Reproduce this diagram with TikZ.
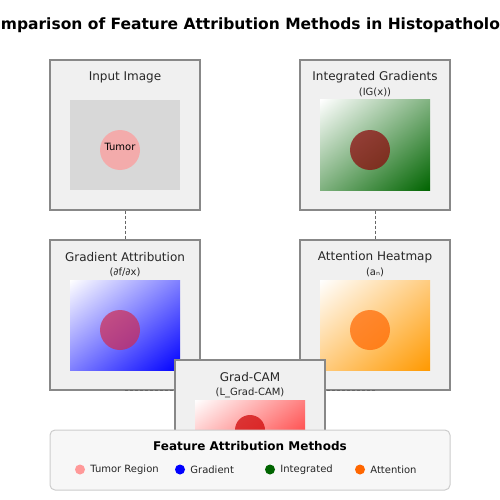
\documentclass[tikz,border=0pt]{standalone}
\usepackage{fontspec}
\setmainfont{DejaVu Sans}
\usetikzlibrary{positioning, shadings}
\definecolor{panelgray}{HTML}{F0F0F0}
\definecolor{panelline}{HTML}{888888}
\definecolor{tissue}{HTML}{D8D8D8}
\definecolor{tumorpink}{HTML}{FF9999}
\definecolor{igdark}{HTML}{8C0408}
\definecolor{gradspot}{HTML}{D02A50}
\definecolor{attnorange}{HTML}{FF6600}
\definecolor{heatorange}{HTML}{FF9900}
\definecolor{camred}{HTML}{CC0000}
\definecolor{igreen}{HTML}{006400}
\definecolor{legendgray}{HTML}{F7F7F7}
\definecolor{legendline}{HTML}{CCCCCC}
\tikzstyle{panel} = [draw=panelline, fill=panelgray, line width=1.1pt, minimum width=150, minimum height=150, inner sep=0pt]
\tikzstyle{heat} = [minimum width=110, minimum height=90, inner sep=0pt]
\tikzstyle{spot} = [circle, minimum size=40, inner sep=0pt, fill opacity=0.7]
\tikzstyle{flow} = [draw=black!60, line width=1pt, dash pattern=on 3pt off 2pt]
\tikzstyle{paneltitle} = [text centered, font=\fontsize{12}{14}\selectfont, text=black!85]
\tikzstyle{panelsub} = [text centered, font=\fontsize{10}{12}\selectfont, text=black!85]
\tikzstyle{keydot} = [circle, minimum size=10, inner sep=0pt]
\tikzstyle{keytext} = [font=\fontsize{10}{12}\selectfont, text=black!85, inner sep=0pt]
\tikzset{diag/.style={upper left=white, lower right=#1, upper right=#1!50, lower left=#1!50}}

\begin{document}
\begin{tikzpicture}[x=1pt, y=-1pt]
        \useasboundingbox (0,0) rectangle (500,500);
        % Title
        \node (title) at (250,25) [text centered, font=\fontsize{15.5}{18}\selectfont\bfseries] {Comparison of Feature Attribution Methods in Histopathology};

        % Input image
        \node (input) at (125,135) [panel] {};
        \node (inputname) at (125,77.5) [paneltitle] {Input Image};
        \node (inputimg) at (125,145) [heat, fill=tissue] {};
        \node (tumor) at (120,150) [spot, fill=tumorpink] {};
        \node (tumortext) at (120,147) [text centered, font=\fontsize{10}{12}\selectfont] {Tumor};

        % Integrated gradients
        \node (ig) at (375,135) [panel] {};
        \node (igname) at (375,77.5) [paneltitle] {Integrated Gradients};
        \node (igsub) at (375,92) [panelsub] {(IG(x))};
        \node (igimg) at (375,145) [heat, diag=igreen] {};
        \node (igspot) at (370,150) [spot, fill=igdark] {};

        % Gradient attribution
        \node (grad) at (125,315) [panel] {};
        \node (gradname) at (125,257.5) [paneltitle] {Gradient Attribution};
        \node (gradsub) at (125,272) [panelsub] {(∂f/∂x)};
        \node (gradimg) at (125,325) [heat, diag=blue] {};
        \node (gradspot) at (120,330) [spot, fill=gradspot] {};

        % Attention heatmap
        \node (attn) at (375,315) [panel] {};
        \node (attnname) at (375,257.5) [paneltitle] {Attention Heatmap};
        \node (attnsub) at (375,272) [panelsub] {(aₙ)};
        \node (attnimg) at (375,325) [heat, diag=heatorange] {};
        \node (attnspot) at (370,330) [spot, fill=attnorange] {};

        % Links
        \draw [flow] (input.south) -- (grad.north);
        \draw [flow] (ig.south) -- (attn.north);
        \draw [flow] (grad.south) -- (grad.south -| inputimg.east);
        \draw [flow] (attn.south) -- (attn.south -| igimg.west);

        % Grad-CAM
        \node (cam) at (250,420) [panel, minimum height=120] {};
        \node (camname) at (250,377.5) [paneltitle] {Grad-CAM};
        \node (camsub) at (250,392.5) [panelsub] {(L\_Grad-CAM)};
        \node (camimg) at (250,442) [heat, minimum height=84, diag=red] {};
        \node (camspot) at (250,430) [spot, minimum size=30, fill=camred] {};

        % Legend
        \node (key) at (250,460) [draw=legendline, fill=legendgray, rounded corners=5pt, line width=1pt, minimum width=400, minimum height=60] {};
        \node (keyname) at (250,446.5) [text centered, font=\fontsize{12}{14}\selectfont\bfseries] {Feature Attribution Methods};
        \node (dottumor) at (80,469.5) [keydot, fill=tumorpink] {};
        \node (keytumor) [keytext, right=5pt of dottumor] {Tumor Region};
        \node (dotgrad) at (180,469.5) [keydot, fill=blue] {};
        \node (keygrad) [keytext, right=5pt of dotgrad] {Gradient};
        \node (dotig) at (270,469.5) [keydot, fill=igreen] {};
        \node (keyig) [keytext, right=5pt of dotig] {Integrated};
        \node (dotattn) at (360,469.5) [keydot, fill=attnorange] {};
        \node (keyattn) [keytext, right=5pt of dotattn] {Attention};
    \end{tikzpicture}
\end{document}
